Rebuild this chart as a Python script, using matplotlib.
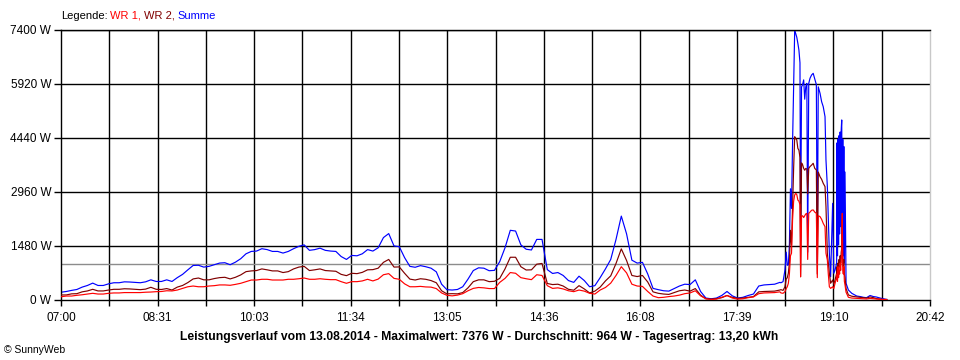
import numpy as np
import matplotlib
matplotlib.use("Agg")
import matplotlib.pyplot as plt

# Minuten seit 07:00, Tagesverlauf in 5-Minuten-Schritten (07:00 - 18:20)
t_main = np.arange(0, 681, 5)
summe_main = [200, 220, 250, 275, 340, 385, 450, 385, 385, 430,
              460, 460, 485, 480, 470, 460, 485, 540, 495, 495,
              540, 495, 600, 690, 815, 935, 940, 890, 910, 955,
              1000, 1010, 955, 1025, 1120, 1255, 1320, 1330, 1395, 1370,
              1320, 1320, 1275, 1320, 1395, 1460, 1500, 1350, 1370, 1410,
              1350, 1330, 1320, 1180, 1100, 1210, 1200, 1255, 1370, 1330,
              1420, 1700, 1810, 1470, 1450, 1150, 910, 885, 930, 900,
              860, 760, 420, 270, 260, 275, 350, 560, 795, 870,
              860, 790, 800, 1040, 1420, 1900, 1880, 1500, 1380, 1360,
              1650, 1650, 820, 715, 740, 660, 520, 470, 640, 520,
              350, 380, 600, 840, 1100, 1650, 2290, 1800, 1080, 1000,
              1020, 700, 305, 270, 240, 230, 300, 370, 420, 410,
              540, 220, 40, 20, 40, 110, 220, 100, 40, 60,
              110, 150, 370, 400, 410, 420, 470]
wr1_main = [75, 95, 95, 115, 130, 150, 170, 150, 150, 170,
            180, 180, 190, 190, 190, 190, 200, 205, 215, 220,
            240, 235, 260, 305, 350, 370, 350, 350, 370, 380,
            400, 400, 390, 415, 445, 490, 535, 535, 555, 555,
            535, 535, 535, 555, 555, 570, 590, 555, 555, 570,
            555, 545, 545, 490, 445, 490, 490, 510, 555, 510,
            560, 680, 710, 580, 555, 430, 350, 350, 360, 345,
            340, 300, 180, 115, 100, 120, 160, 240, 305, 330,
            320, 300, 300, 470, 580, 740, 720, 600, 570, 545,
            680, 660, 380, 305, 320, 290, 240, 215, 260, 230,
            170, 150, 260, 330, 450, 660, 900, 730, 420, 370,
            360, 220, 95, 50, 60, 80, 95, 120, 160, 180,
            240, 100, 20, 0, 10, 60, 110, 40, 10, 20,
            50, 70, 160, 180, 185, 190, 210]
wr2_main = [125, 125, 155, 160, 210, 235, 280, 235, 235, 260,
            280, 280, 295, 290, 280, 270, 285, 335, 280, 275,
            300, 260, 340, 385, 465, 565, 590, 540, 540, 575,
            600, 610, 565, 610, 675, 765, 785, 795, 840, 815,
            785, 785, 740, 765, 840, 890, 910, 795, 815, 840,
            795, 785, 775, 690, 655, 720, 710, 745, 815, 820,
            860, 1020, 1100, 890, 895, 720, 560, 535, 570, 555,
            520, 460, 240, 155, 160, 155, 190, 320, 490, 540,
            540, 490, 500, 580, 840, 1160, 1160, 900, 810, 815,
            970, 990, 440, 410, 420, 370, 280, 255, 380, 290,
            180, 230, 340, 510, 650, 990, 1390, 1070, 660, 630,
            660, 480, 210, 170, 150, 140, 190, 240, 260, 230,
            300, 120, 20, 10, 25, 50, 110, 60, 30, 40,
            60, 80, 210, 220, 225, 230, 260]

# Abendspitze 18:21 - 20:10, unregelmaessige Zeitpunkte
t_peak = [681, 683, 684.8, 686, 687, 688, 689, 690, 691, 692,
          693, 694, 695, 696, 697, 698, 699, 699.6, 700.5, 701.5,
          702.5, 703.5, 704.5, 705.5, 706.3, 707.3, 708.5, 710, 711.5, 713,
          714.5, 715.4, 716.3, 718, 719.5, 721, 722.7, 723.6, 724.9, 725.8,
          726.8, 728, 729.9, 731, 732.2, 733.7, 734, 734.5, 735, 735.5,
          736, 736.5, 737, 737.5, 738, 738.5, 739, 739.5, 740, 740.5,
          741, 741.6, 742.6, 744.8, 748, 752.7, 756, 759, 762, 765.3,
          768.5, 771, 774.8, 778, 781.1]
summe_peak = [460, 490, 810, 1300, 940, 950, 1500, 3040, 2500, 4300,
              5800, 7376, 7300, 7200, 7035, 6850, 6500, 1600, 5840, 5900,
              6030, 5500, 5840, 5935, 1300, 5935, 6075, 6165, 6210, 6050,
              5900, 1000, 5840, 5660, 5430, 5295, 5020, 3830, 3100, 2185,
              1275, 625, 2640, 720, 810, 1000, 4300, 1200, 4400, 1500,
              4500, 1800, 4600, 2000, 4650, 4930, 1500, 4400, 1200, 4200,
              1000, 3500, 445, 260, 170, 95, 80, 60, 50, 110,
              80, 70, 40, 20, 0]
wr1_peak = [180, 170, 215, 300, 350, 445, 700, 1200, 1270, 2185,
            2700, 2870, 2915, 2880, 2730, 2700, 2600, 625, 2280, 2300,
            2250, 2300, 2350, 2365, 1100, 2365, 2400, 2450, 2460, 2400,
            2365, 600, 2300, 2275, 2200, 2090, 2000, 1270, 1085, 700,
            350, 305, 350, 300, 445, 600, 700, 500, 900, 600,
            800, 700, 1000, 800, 1100, 1200, 2365, 800, 700, 900,
            500, 400, 200, 60, 40, 30, 25, 20, 15, 30,
            20, 15, 5, 0, 0]
wr2_peak = [270, 250, 350, 560, 600, 720, 1000, 1900, 1500, 2550,
            3600, 4470, 4420, 4380, 4150, 4100, 3900, 625, 3750, 3700,
            3600, 3550, 3600, 3580, 2900, 3600, 3650, 3690, 3740, 3600,
            3555, 700, 3500, 3370, 3300, 3190, 3100, 2550, 1270, 1000,
            720, 445, 535, 420, 535, 720, 900, 700, 1000, 800,
            1100, 900, 1200, 1000, 1300, 1400, 2185, 1000, 900, 1100,
            700, 600, 300, 125, 90, 70, 60, 50, 40, 70,
            50, 25, 10, 0, 0]

x_labels = ['07:00', '08:31', '10:03', '11:34', '13:05',
            '14:36', '16:08', '17:39', '19:10', '20:42']
y_ticks = [0, 1480, 2960, 4440, 5920, 7400]
average = 964
total_minutes = 822  # 07:00 - 20:42

t = np.concatenate([t_main, t_peak])
summe = np.concatenate([summe_main, summe_peak])
wr1 = np.concatenate([wr1_main, wr1_peak])
wr2 = np.concatenate([wr2_main, wr2_peak])

plt.rcParams['font.family'] = ['Liberation Sans', 'DejaVu Sans']

fig = plt.figure(figsize=(9.6, 3.6), dpi=100)
ax = fig.add_axes([61 / 960, 1 - 299.5 / 360, 869 / 960, 269.5 / 360])

grid_x = np.linspace(0, total_minutes, 19)

# Gitter + Durchschnittslinie
for gx in grid_x[1:-1]:
    ax.axvline(gx, color='black', lw=1.0, zorder=1)
for gy in y_ticks[1:]:
    ax.axhline(gy, color='black', lw=1.0, zorder=1)
ax.axhline(average, color='#8c8c8c', lw=1.0, zorder=1.5)

ax.plot(t, summe, color='#0000ff', lw=0.85, zorder=2)
ax.plot(t, wr2, color='#800000', lw=0.85, zorder=3)
ax.plot(t, wr1, color='#ff0000', lw=0.85, zorder=4)

ax.set_xlim(0, total_minutes)
ax.set_ylim(0, 7400)

tick_text = []
for i in range(len(grid_x)):
    tick_text.append(x_labels[i // 2] if i % 2 == 0 else '')
ax.set_xticks(grid_x)
ax.set_xticklabels(tick_text)
ax.set_yticks(y_ticks)
ax.set_yticklabels(['%d W' % v for v in y_ticks])
ax.tick_params(axis='x', length=4, width=1.0, pad=5, labelsize=8.5)
ax.tick_params(axis='y', length=5, width=1.0, pad=2, labelsize=8.5)

for side in ['left', 'bottom', 'top']:
    ax.spines[side].set_color('black')
    ax.spines[side].set_linewidth(1.0)
ax.spines['right'].set_color('#c8c8c8')
ax.spines['right'].set_linewidth(1.0)

# Legende oben links, Teile aneinander gehaengt
prev = fig.text(61 / 960, 1 - 16 / 360, 'Legende:', fontsize=8, color='black', va='center')
for word, col in [('WR 1,', '#ff0000'), ('WR 2,', '#800000'), ('Summe', '#0000ff')]:
    prev = ax.annotate(word, xy=(1, 0.5), xycoords=prev,
                       xytext=(2, 0), textcoords='offset points',
                       fontsize=8, color=col, va='center', ha='left',
                       annotation_clip=False)

fig.text(479 / 960, 1 - 337 / 360,
         'Leistungsverlauf vom 13.08.2014 - Maximalwert: 7376 W - '
         'Durchschnitt: 964 W - Tagesertrag: 13,20 kWh',
         fontsize=8.7, fontweight='bold', ha='center', va='center')
fig.text(4 / 960, 1 - 350 / 360, '© SunnyWeb', fontsize=7.5, va='center')

fig.savefig('out.png', dpi=100, facecolor='white')
